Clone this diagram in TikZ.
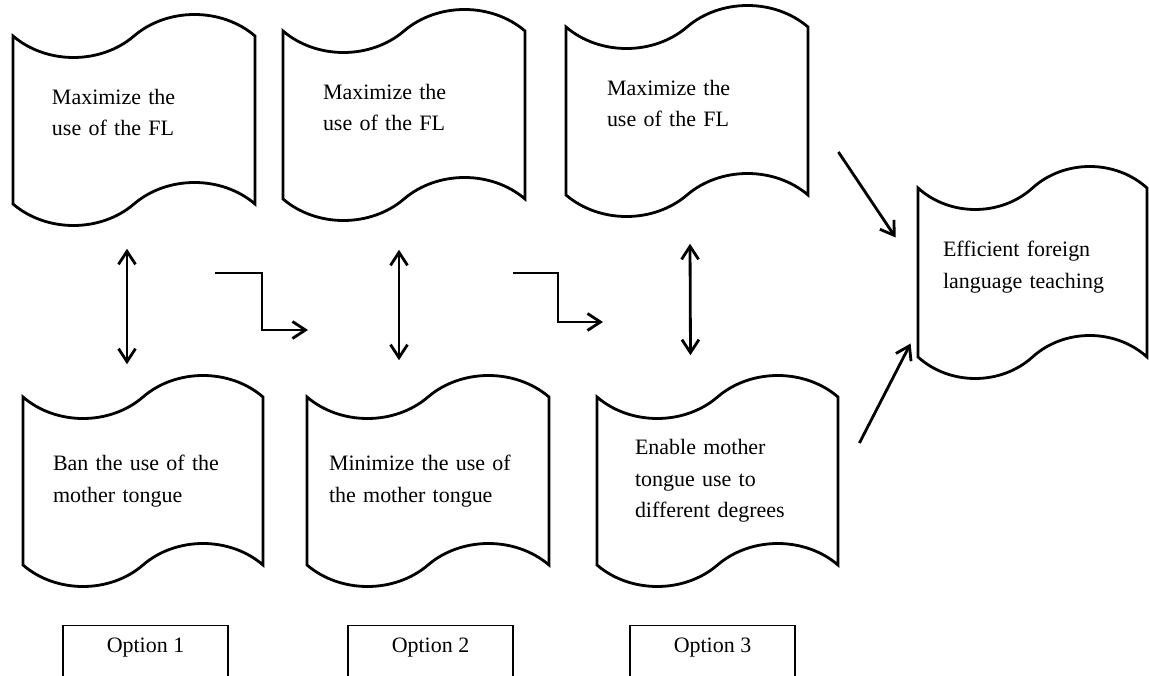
\documentclass[tikz,border=0pt]{standalone}
\usepackage{fontspec}
\setmainfont{Liberation Serif}
\usetikzlibrary{shapes.symbols,arrows.meta}

\begin{document}
\begin{tikzpicture}[
  flag/.style={tape, draw, line width=1.6pt, minimum width=4.84cm,
    minimum height=4.22cm, tape bend height=0.86cm, inner sep=0pt,
    align=left, text width=#1, font=\fontsize{12.5}{17.8}\selectfont},
  lifted/.style={text depth=0.94cm},
  optbox/.style={draw, line width=0.8pt, minimum width=3.3cm, anchor=north,
    text height=0.42cm, text depth=1cm, inner ysep=0.12cm,
    font=\fontsize{12.5}{17.8}\selectfont},
  link/.style={line width=1.6pt},
  >={Straight Barb[length=0.26cm,width=0.34cm]}]
\useasboundingbox (0,0) rectangle (22.98,-13.52);
\clip (0,0) rectangle (22.98,-13.52);

\node[flag=3.28cm, lifted] (max1) at (2.68,-2.40) {Maximize the\\use of the FL};
\node[flag=3.24cm, lifted] (max2) at (8.08,-2.30) {Maximize the\\use of the FL};
\node[flag=3.2cm, lifted] (max3) at (13.74,-2.22) {Maximize the\\use of the FL};
\node[flag=3.6cm, minimum width=4.8cm] (ban) at (2.86,-9.62)
  {Ban the use of the\\mother tongue};
\node[flag=3.96cm] (minimize) at (8.56,-9.62)
  {Minimize the use of\\the mother tongue};
\node[flag=3.3cm, minimum width=4.82cm] (enable) at (14.35,-9.62)
  {Enable mother\\tongue use to\\different degrees};
\node[flag=3.58cm, lifted, minimum width=4.58cm, minimum height=4.24cm] (goal)
  at (20.65,-5.45) {Efficient foreign\\language teaching};

\node[optbox] (opt1) at (2.91,-12.50) {Option 1};
\node[optbox] (opt2) at (8.61,-12.50) {Option 2};
\node[optbox] (opt3) at (14.25,-12.50) {Option 3};

\draw[<->, link] ([shift={(-0.14,-0.86)}]max1.south) -- ([shift={(-0.32,0.62)}]ban.north);
\draw[<->, link] ([shift={(-0.10,-0.98)}]max2.south) -- ([shift={(-0.58,0.70)}]minimize.north);
\draw[<->, link] ([shift={(0.06,-0.94)}]max3.south) -- ([shift={(-0.54,0.80)}]enable.north);

\coordinate (step1) at (4.30,-5.46);
\coordinate (next1) at (6.16,-6.60);
\coordinate (step2) at (10.26,-5.46);
\coordinate (next2) at (12.06,-6.44);
\draw[->, link] (step1) -- ++(0.94,0) |- (next1);
\draw[->, link] (step2) -- ++(0.90,0) |- (next2);

\draw[->, link] ([shift={(0.58,-0.82)}]max3.east) -- ([shift={(-0.42,0.70)}]goal.west);
\draw[->, link] ([shift={(0.40,0.76)}]enable.east) -- ([shift={(-0.12,-1.42)}]goal.west);
\end{tikzpicture}
\end{document}
